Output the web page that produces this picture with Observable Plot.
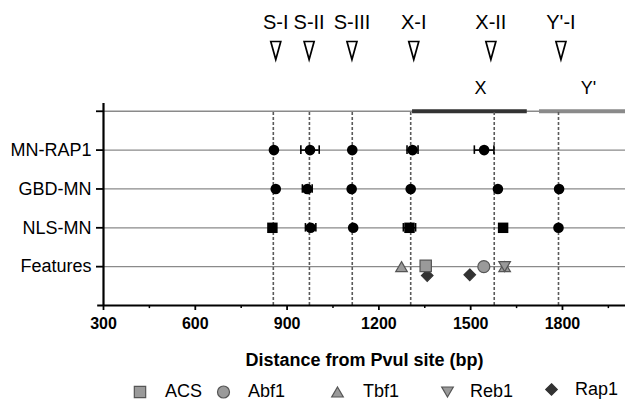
<!DOCTYPE html>
<html><head><meta charset="utf-8">
<script src="https://cdn.jsdelivr.net/npm/d3@7"></script>
<script src="https://cdn.jsdelivr.net/npm/@observablehq/plot@0.6"></script>
<style>
body{margin:0;background:#fff;font-family:"Liberation Sans",Arial,sans-serif;}
#wrap{position:relative;width:631px;height:408px;overflow:hidden;}
#legend{position:absolute;left:0;top:370px;}
</style></head><body><div id="wrap"></div>
<script>
// ---- data ----
const rowLabels = ["Features", "NLS-MN", "GBD-MN", "MN-RAP1", ""];
const rowValues = [1, 2, 3, 4, 5];

const siteNames = ["S-I", "S-II", "S-III", "X-I", "X-II", "Y'-I"];
const siteBp = [855, 973, 1113, 1304, 1577, 1787];
const siteMarkBp = [863, 972, 1112, 1314, 1566, 1795];

const regionNames = ["X", "Y'"];
const regionStart = [1310, 1725];
const regionEnd = [1685, 2006];
const regionLabelBp = [1532, 1885];
const regionColors = ["#333333", "#8a8a8a"];

const mnRap1Bp = [857, 975, 1113, 1310, 1544];
const mnRap1Err = [0, 30, 0, 18, 32];
const mnRap1Shape = ["circle", "circle", "circle", "circle", "circle"];

const gbdBp = [863, 966, 1111, 1304, 1589, 1789];
const gbdErr = [0, 16, 0, 0, 0, 0];
const gbdShape = ["circle", "circle", "circle", "circle", "circle", "circle"];

const nlsBp = [852, 977, 1116, 1300, 1606, 1787];
const nlsErr = [0, 17, 0, 20, 0, 0];
const nlsShape = ["square", "circle", "circle", "square", "square", "circle"];

const featType = ["Rap1", "Rap1", "Tbf1", "ACS", "Abf1", "Tbf1", "Reb1"];
const featBp = [1358, 1497, 1274, 1353, 1543, 1611, 1611];
const featRow = [0.77, 0.79, 1, 1.02, 1, 1, 1];

const legendNames = ["ACS", "Abf1", "Tbf1", "Reb1", "Rap1"];

const xTicks = [300, 600, 900, 1200, 1500, 1800];
const xMinorTicks = [450, 750, 1050, 1350, 1650, 1950];
const xLabel = "Distance from PvuI site (bp)";

// ---- tables ----
const seriesDefs = [
  {y: 4, bp: mnRap1Bp, err: mnRap1Err, shape: mnRap1Shape},
  {y: 3, bp: gbdBp, err: gbdErr, shape: gbdShape},
  {y: 2, bp: nlsBp, err: nlsErr, shape: nlsShape}
];
const points = seriesDefs.flatMap(s => s.bp.map((b, i) => ({x: b, y: s.y, err: s.err[i], shape: s.shape[i]})));
const errs = points.filter(p => p.err > 0).map(p => ({y: p.y, lo: p.x - p.err, hi: p.x + p.err}));
const caps = errs.flatMap(e => [{x: e.lo, y: e.y}, {x: e.hi, y: e.y}]);
const feats = featType.map((t, i) => ({type: t, x: featBp[i], y: featRow[i]}));
const sites = siteNames.map((n, i) => ({name: n, x: siteBp[i], mx: siteMarkBp[i]}));
const regions = regionNames.map((n, i) => ({name: n, x1: regionStart[i], x2: regionEnd[i], lx: regionLabelBp[i], c: regionColors[i]}));

// triangles centred on their bounding box (so up + down overlap as an hourglass)
const triUp = {draw(ctx) { ctx.moveTo(0, -5); ctx.lineTo(5.8, 5); ctx.lineTo(-5.8, 5); ctx.closePath(); }};
const triDown = {draw(ctx) { ctx.moveTo(0, 5); ctx.lineTo(5.8, -5); ctx.lineTo(-5.8, -5); ctx.closePath(); }};
const openTri = {draw(ctx) { ctx.moveTo(-5, -9); ctx.lineTo(5, -9); ctx.lineTo(0, 9); ctx.closePath(); }};

const featStyle = {
  ACS: {symbol: "square", r: 6.4, fill: "#9a9a9a", stroke: "#555"},
  Abf1: {symbol: "circle", r: 6, fill: "#9a9a9a", stroke: "#555"},
  Tbf1: {symbol: triUp, r: 5, fill: "#9a9a9a", stroke: "#555"},
  Reb1: {symbol: triDown, r: 5, fill: "#9a9a9a", stroke: "#555"},
  Rap1: {symbol: "diamond2", r: 5.2, fill: "#333", stroke: "#333"}
};

const H = 370;
const font = '"Liberation Sans", Arial, sans-serif';

const featMarks = ["Rap1", "ACS", "Abf1", "Tbf1", "Reb1"].map(t =>
  Plot.dot(feats.filter(f => f.type === t), {
    x: "x", y: "y", symbol: featStyle[t].symbol, r: featStyle[t].r,
    fill: featStyle[t].fill, stroke: featStyle[t].stroke, strokeWidth: 1.2
  })
);

const chart = Plot.plot({
  width: 631, height: H,
  marginLeft: 103, marginRight: 6, marginTop: 103, marginBottom: H - 305,
  x: {domain: [300, 2006]},
  y: {domain: [0, 5.2]},
  style: {fontFamily: font, color: "#000", background: "#fff", overflow: "visible"},
  marks: [
    Plot.ruleY(rowValues, {x1: 300, x2: 2006, stroke: "#8a8a8a", strokeWidth: 1.3}),
    Plot.ruleY(regions, {y: 5, x1: "x1", x2: "x2", stroke: "c", strokeWidth: 4}),
    Plot.ruleX(sites, {x: "x", y1: 0, y2: 5, stroke: "#5a5a5a", strokeWidth: 1.6, strokeDasharray: "3,2"}),
    Plot.ruleY([0], {x1: 281, x2: 2006, stroke: "#000", strokeWidth: 2.2}),
    Plot.ruleX([300], {y1: 0, y2: 5.2, stroke: "#000", strokeWidth: 2.2}),
    Plot.ruleX(xMinorTicks, {y1: 0, y2: -0.08, stroke: "#000", strokeWidth: 1.5}),
    Plot.axisX({ticks: xTicks, tickFormat: d => String(d), tickSize: 5, tickPadding: 7, fontSize: 16, fontWeight: "bold", label: null, strokeWidth: 1.8}),
    Plot.axisY({ticks: rowValues, tickFormat: d => rowLabels[rowValues.indexOf(d)], tickSize: 7, tickPadding: 5, fontSize: 18, label: null, strokeWidth: 1.8}),
    Plot.text([xLabel], {frameAnchor: "bottom", dy: 55, fontSize: 18, fontWeight: "bold", lineAnchor: "middle"}),
    Plot.ruleY(errs, {y: "y", x1: "lo", x2: "hi", stroke: "#000", strokeWidth: 1.6}),
    Plot.ruleX(caps, {x: "x", y1: d => d.y - 0.11, y2: d => d.y + 0.11, stroke: "#000", strokeWidth: 1.6}),
    Plot.dot(points.filter(p => p.shape === "circle"), {x: "x", y: "y", symbol: "circle", r: 5.3, fill: "#000"}),
    Plot.dot(points.filter(p => p.shape === "square"), {x: "x", y: "y", symbol: "square", r: 5.9, fill: "#000"}),
    ...featMarks,
    Plot.text(sites, {x: "mx", frameAnchor: "top", dy: -81, text: "name", fontSize: 20, lineAnchor: "middle"}),
    Plot.dot(sites, {x: "mx", frameAnchor: "top", dy: -53, symbol: openTri, fill: "#fff", stroke: "#000", strokeWidth: 1.7}),
    Plot.text(regions, {x: "lx", frameAnchor: "top", dy: -15.5, text: "name", fontSize: 18, lineAnchor: "middle"})
  ]
});

const wrap = document.getElementById("wrap");
wrap.appendChild(chart);

// ---- legend ----
const legendPos = [
  {sx: 140, sy: 22, tx: 165, ty: 21},
  {sx: 223.5, sy: 22, tx: 248, ty: 21},
  {sx: 337.5, sy: 22, tx: 363, ty: 21},
  {sx: 447.5, sy: 22, tx: 470, ty: 21},
  {sx: 551.5, sy: 19.5, tx: 575, ty: 18.5}
];
const legendSym = {
  ACS: d3.symbolSquare, Abf1: d3.symbolCircle, Tbf1: triUp, Reb1: triDown, Rap1: d3.symbolDiamond2
};
const lg = d3.select(wrap).append("svg").attr("id", "legend").attr("width", 631).attr("height", 38)
  .style("font-family", font);
legendNames.forEach((n, i) => {
  const st = featStyle[n], p = legendPos[i];
  lg.append("path")
    .attr("d", d3.symbol(legendSym[n], st.r * st.r * Math.PI)())
    .attr("transform", `translate(${p.sx},${p.sy})`)
    .attr("fill", st.fill).attr("stroke", st.stroke).attr("stroke-width", 1.2);
  lg.append("text").attr("x", p.tx).attr("y", p.ty).attr("dy", "0.35em")
    .attr("font-size", 18).attr("fill", "#000").text(n);
});
</script>
</body></html>
